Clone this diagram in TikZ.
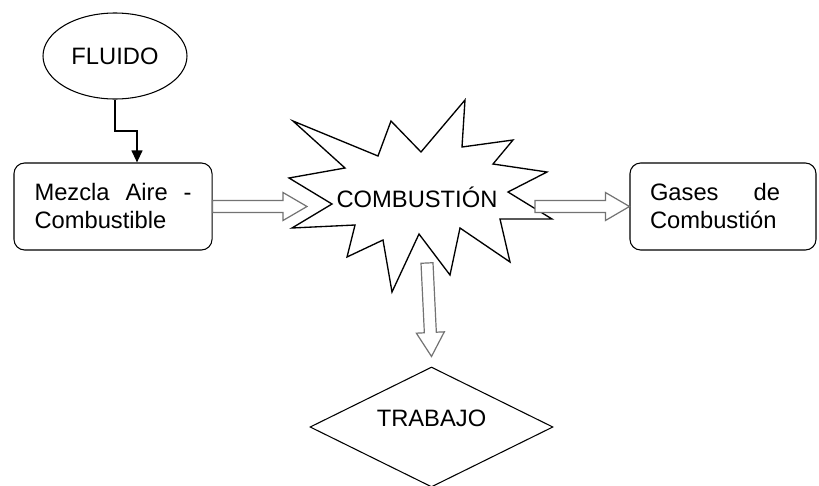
\documentclass[tikz,border=0pt]{standalone}
\usepackage{fontspec}
\setmainfont{Liberation Sans}
\usetikzlibrary{shapes.geometric,arrows.meta,calc}

\newcommand{\hollowarrow}[2]{%
	\path ($(#2)!18pt!(#1)$) coordinate (hb);
	\draw[hollow] ($(#1)!4.5pt!90:(#2)$) -- ($(hb)!4.5pt!90:(#2)$) -- ($(hb)!10.5pt!90:(#2)$) -- (#2)
		-- ($(hb)!10.5pt!-90:(#2)$) -- ($(hb)!4.5pt!-90:(#2)$) -- ($(#1)!4.5pt!-90:(#2)$) -- cycle;
}

\begin{document}
\begin{tikzpicture}[x=0.75pt, y=-0.75pt, >={Triangle[width=8pt,length=9pt]}, font=\fontsize{17.8pt}{21pt}\selectfont]
	\tikzstyle{oval} = [ellipse, draw=black, line width=0.8pt, minimum width=108pt, minimum height=64.5pt, inner sep=0pt]
	\tikzstyle{rbox} = [rectangle, draw=black, line width=0.8pt, rounded corners=8pt, minimum height=65.25pt, align=left]
	\tikzstyle{dia} = [diamond, aspect=2, draw=black, line width=0.8pt, minimum width=182.25pt, minimum height=90pt, inner sep=0pt, text depth=13.5pt]
	\tikzstyle{burst} = [draw=black, line width=1pt, fill=white, line join=miter]
	\tikzstyle{hollow} = [draw=black!55, line width=0.9pt, fill=white]
	\tikzstyle{conn} = [->, line width=1.5pt]
	\useasboundingbox (0,0) rectangle (819,486);

	\node (fluido) [oval] at (115,56) {FLUIDO};
	\node (mezcla) [rbox, text width=117.75pt, inner xsep=15.4pt] at (113,206.5) {\makebox[117.75pt]{Mezcla\hfill Aire\hfill -}\\Combustible};
	\node (gases) [rbox, text width=109.5pt, inner xsep=15pt] at (723,206.5) {\makebox[97.5pt]{Gases\hfill de}\\Combustión};
	\node (trabajo) [dia] at (431.5,427) {TRABAJO};

	\draw[burst] (293,121) -- (378,156) -- (391,121) -- (421,152) -- (465,100) -- (462,147)
		-- (513,140) -- (493,164) -- (547,172) -- (508,192) -- (552,219) -- (500,219)
		-- (510,262) -- (460,228) -- (450,275) -- (419,234) -- (392,292) -- (383,240)
		-- (347,257) -- (355,225) -- (292,228) -- (332,204) -- (289,178) -- (345,168) -- cycle;
	\node (comb) at (417,197) {COMBUSTIÓN};

	\coordinate (burstW) at (307,206.5);
	\coordinate (burstE) at (535,206.5);
	\coordinate (burstS) at (427,263);

	\draw[conn] (fluido.south) -- ++(0,31) -| ([xshift=18pt]mezcla.north);
	\hollowarrow{mezcla.east}{burstW}
	\hollowarrow{burstE}{gases.west}
	\hollowarrow{burstS}{[yshift=7.5pt]trabajo.north}
\end{tikzpicture}
\end{document}
